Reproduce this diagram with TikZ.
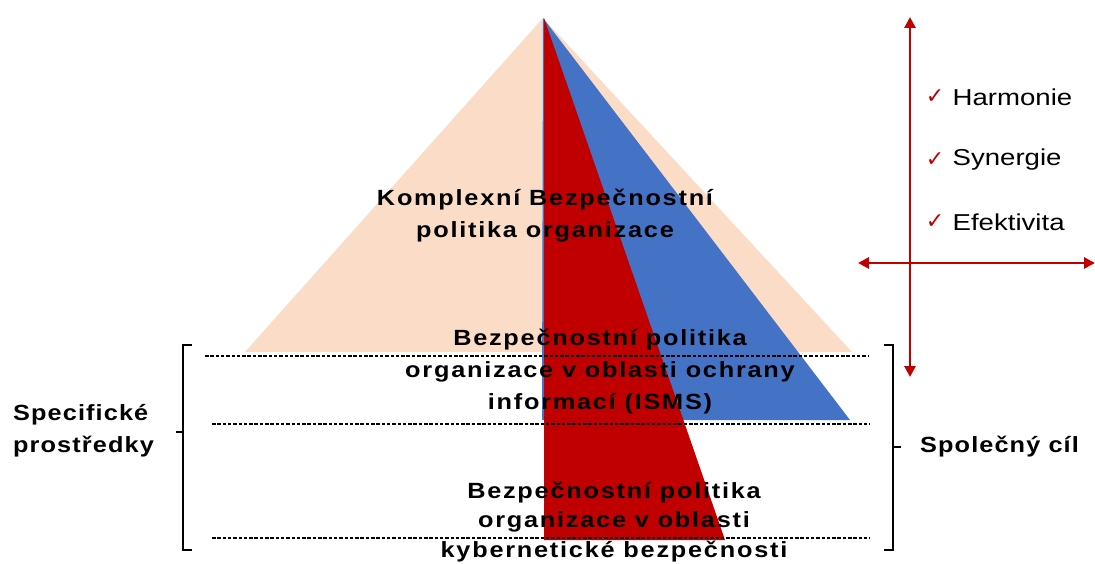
\documentclass[tikz,border=0pt]{standalone}
\usepackage{fontspec}
\setmainfont{Liberation Sans}
\newfontfamily\widefont[FakeStretch=1.2]{Liberation Sans}
\newfontfamily\widebold[FakeStretch=1.15,LetterSpace=8]{Liberation Sans}
\newfontfamily\sidebold[FakeStretch=1.15,LetterSpace=5]{Liberation Sans}
\newfontfamily\tickfont{DejaVu Sans}
\usetikzlibrary{positioning,arrows.meta}
\definecolor{peach}{HTML}{FBDCC6}
\definecolor{polred}{HTML}{C00000}
\definecolor{polblue}{HTML}{4472C4}

\begin{document}
\begin{tikzpicture}[x=1pt,y=-1pt,
      lbl/.style={inner sep=0pt, align=center, font=\widebold\bfseries\fontsize{22}{32}\selectfont},
      side/.style={inner sep=0pt, anchor=west, align=left, font=\sidebold\bfseries\fontsize{22}{32}\selectfont},
      item/.style={inner sep=0pt, anchor=west, font=\widefont\fontsize{23}{26}\selectfont},
      chk/.style={inner sep=0pt, text=polred, font=\tickfont\fontsize{22}{24}\selectfont},
      dashline/.style={draw=black, line width=1.2pt, dash pattern=on 3.5pt off 1.8pt},
      brk/.style={draw=black, line width=2.8pt},
      axis/.style={draw=polred, line width=2.8pt, {Triangle[length=11pt,width=11pt]}-{Triangle[length=11pt,width=11pt]}}]
  \useasboundingbox (0,0) rectangle (1095,564);
  % pyramid
  \fill[peach] (543,18) -- (852,352) -- (245,352) -- cycle;
  \fill[polblue] (543,18) -- (850,420) -- (542,420) -- cycle;
  \fill[polred] (544,18) -- (725,540) -- (544,540) -- cycle;
  % levels
  \draw[dashline] (205,356) -- (868,356);
  \draw[dashline] (212,424) -- (870,424);
  \draw[dashline] (212,538) -- (870,538);
  \node[lbl] (top) at (545,216) {Komplexní Bezpečnostní\\politika organizace};
  \node[lbl] (isms) at (600,372) {Bezpečnostní politika\\organizace v oblasti ochrany\\informací (ISMS)};
  \node[lbl, font=\widebold\bfseries\fontsize{22}{29.5}\selectfont] (kyb) at (614,522) {Bezpečnostní politika\\organizace v oblasti\\kybernetické bezpečnosti};
  % brackets
  \coordinate (lt) at (192,345);
  \coordinate (lb) at (192,550);
  \coordinate (lm) at (183,432);
  \draw[brk] (lt) -- ++(-9,0) |- (lb);
  \draw[brk] (lm) -- ++(-7,0);
  \node[side] (spec) at (13,431) {Specifické\\prostředky};
  \coordinate (rt) at (884,345);
  \coordinate (rb) at (884,550);
  \coordinate (rm) at (893,447);
  \draw[brk] (rt) -- ++(9,0) |- (rb);
  \draw[brk] (rm) -- ++(8,0);
  \node[side] (goal) at (920,447) {Společný cíl};
  % axes
  \coordinate (vtop) at (910,17);
  \coordinate (vbot) at (910,377);
  \coordinate (hleft) at (858,263);
  \coordinate (hright) at (1095,263);
  \draw[axis] (vtop) -- (vbot);
  \draw[axis] (hleft) -- (hright);
  \node[chk] (c1) at (935,97) {✓};
  \node[chk] (c2) at (935,160) {✓};
  \node[chk] (c3) at (935,222) {✓};
  \node[item, right=8pt of c1] (harm) {Harmonie};
  \node[item, right=8pt of c2] (syn) {Synergie};
  \node[item, right=8pt of c3] (efe) {Efektivita};
\end{tikzpicture}
\end{document}
